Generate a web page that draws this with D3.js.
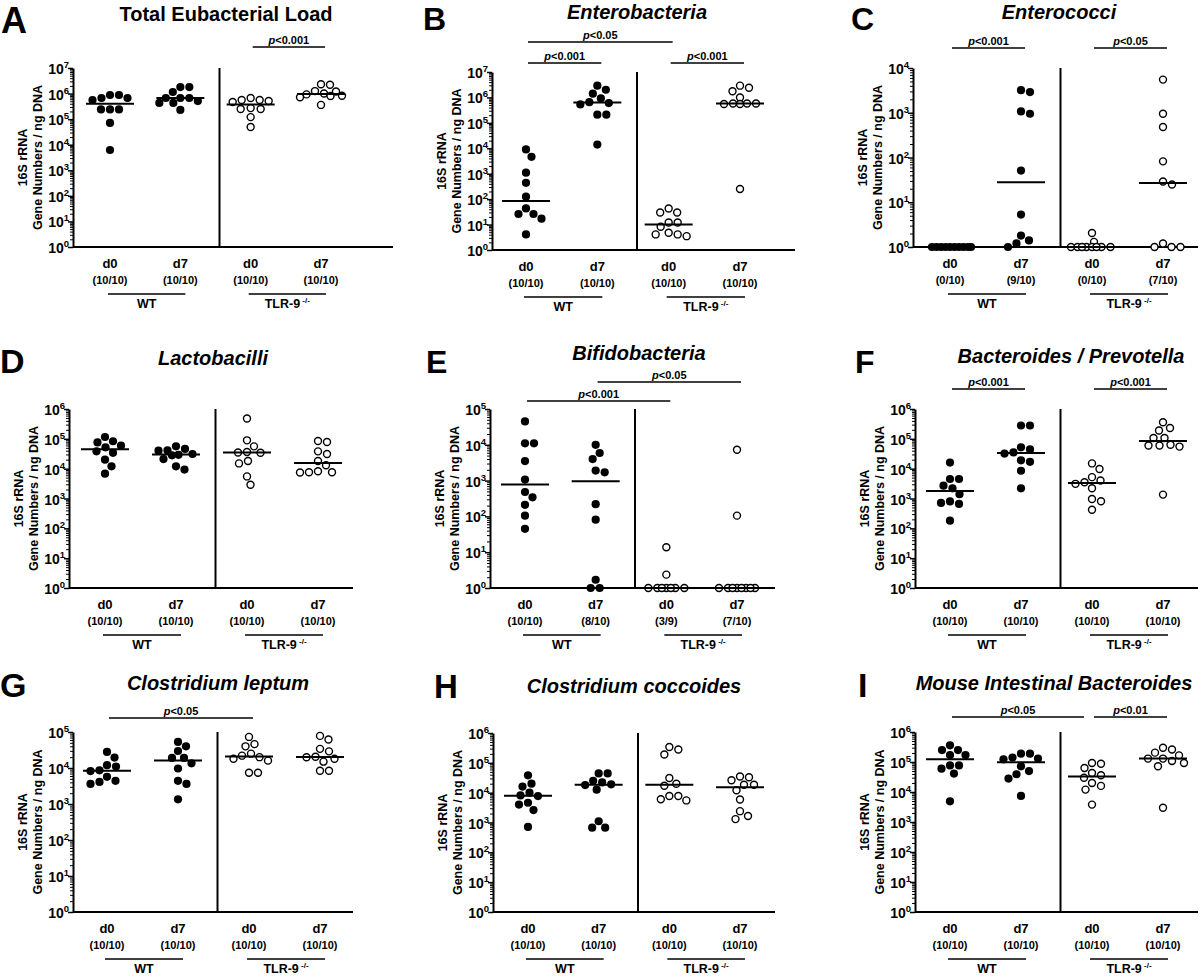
<!DOCTYPE html>
<html>
<head>
<meta charset="utf-8">
<script src="https://cdn.jsdelivr.net/npm/d3@7"></script>
<style>
body { margin: 0; background: #fff; }
svg { display: block; font-family: "Liberation Sans", Arial, sans-serif; font-weight: bold; }
</style>
</head>
<body>
<svg id="chart" width="1200" height="977"></svg>
<script>
// columns: WT d0, WT d7, TLR-9-/- d0, TLR-9-/- d7
const dayLabels = ["d0", "d7", "d0", "d7"];
const genotypes = ["WT", "TLR-9"];

const countsAll = ["(10/10)", "(10/10)", "(10/10)", "(10/10)"];
const countsEnterococci = ["(0/10)", "(9/10)", "(0/10)", "(7/10)"];
const countsBifido = ["(10/10)", "(8/10)", "(3/9)", "(7/10)"];

const totalEubacterial = [
  [8.8e5, 6.7e5, 5.6e5, 6.7e5, 8.8e5, 2.4e5, 2.4e5, 2.4e5, 7.1e4, 6.2e3],
  [1.8e6, 1.8e6, 1.15e6, 6.7e5, 6.7e5, 6.7e5, 5.1e5, 4.3e5, 4.3e5, 2.3e5],
  [6.7e5, 5.6e5, 5.6e5, 5.1e5, 4.7e5, 2.7e5, 2.5e5, 2.5e5, 1.2e5, 4.9e4],
  [2.3e6, 2.2e6, 1.25e6, 1.2e6, 1.0e6, 9.3e5, 8.2e5, 8.0e5, 7.2e5, 3.6e5]
];
const enterobacteria = [
  [9e3, 4.6e3, 1.1e3, 440, 125, 43, 26, 26, 17, 4.1],
  [2.9e6, 2.0e6, 1.4e6, 9.1e5, 6.5e5, 6.0e5, 5.3e5, 2.1e5, 2.1e5, 1.4e4],
  [43, 30, 30, 12, 12, 8.2, 4.8, 4.1, 4.1, 3.5],
  [2.9e6, 2.4e6, 1.75e6, 1.0e6, 5.8e5, 5.8e5, 5.8e5, 5.5e5, 5.5e5, 250]
];
const enterococci = [
  [1, 1, 1, 1, 1, 1, 1, 1, 1, 1],
  [3200, 2900, 1070, 950, 51, 5.3, 1.8, 1.4, 1.2, 1],
  [2.05, 1.3, 1, 1, 1, 1, 1, 1, 1, 1],
  [5500, 950, 480, 82, 29, 25, 1.2, 1, 1, 1]
];
const lactobacilli = [
  [1.15e5, 8.3e4, 7.6e4, 5.9e4, 5.2e4, 3.8e4, 3.4e4, 2.0e4, 1.2e4, 6.8e3],
  [5.6e4, 4.6e4, 4.1e4, 4.0e4, 3.1e4, 2.9e4, 2.8e4, 2.1e4, 1.2e4, 9.3e3],
  [4.8e5, 8.9e4, 5.6e4, 3.6e4, 3.5e4, 3.4e4, 1.8e4, 1.5e4, 5.5e3, 2.9e3],
  [8.5e4, 7.8e4, 3.8e4, 3.1e4, 1.8e4, 1.3e4, 8.2e3, 7.6e3, 7.6e3, 7.4e3]
];
const bifidobacteria = [
  [4.5e4, 1.1e4, 1.1e4, 3.5e3, 1.07e3, 480, 340, 210, 105, 45],
  [1e4, 5.9e3, 4e3, 1.9e3, 1.7e3, 220, 81, 1.7, 1, 1],
  [13.7, 2.36, 1, 1, 1, 1, 1, 1, 1],
  [7.3e3, 105, 1, 1, 1, 1, 1, 1, 1, 1]
];
const bacteroidesPrevotella = [
  [1.6e4, 4.5e3, 4.5e3, 2.7e3, 2.2e3, 1.4e3, 800, 710, 660, 180],
  [2.8e5, 2.8e5, 5.2e4, 4.4e4, 3.5e4, 3.2e4, 1.9e4, 1.7e4, 8.5e3, 2.2e3],
  [1.5e4, 9.8e3, 5.2e3, 4.0e3, 3.5e3, 3.1e3, 2.2e3, 960, 810, 420],
  [3.6e5, 2.3e5, 1.9e5, 1.07e5, 1.07e5, 6.3e4, 6e4, 6e4, 5.5e4, 1.35e3]
];
const clostridiumLeptum = [
  [2.8e4, 1.95e4, 1.2e4, 1.1e4, 8.6e3, 8.2e3, 5.7e3, 4.4e3, 4.1e3, 3.6e3],
  [5.3e4, 4e4, 2.97e4, 1.9e4, 1.9e4, 1.35e4, 9.7e3, 4.4e3, 3.6e3, 1.35e3],
  [7.3e4, 4.6e4, 4e4, 2.5e4, 2.2e4, 2.0e4, 1.8e4, 1.6e4, 7.4e3, 7.4e3],
  [7.8e4, 6.2e4, 3.4e4, 2.9e4, 2.05e4, 1.98e4, 1.8e4, 1.5e4, 8.4e3, 8.4e3]
];
const clostridiumCoccoides = [
  [3.8e4, 2e4, 1.6e4, 1e4, 8.1e3, 7.7e3, 4.6e3, 4e3, 2.6e3, 710],
  [4.4e4, 4.4e4, 2.5e4, 2.2e4, 1.9e4, 1.8e4, 1.26e4, 1.1e3, 670, 670],
  [3.4e5, 2.8e5, 1.9e5, 3.1e4, 2e4, 1.7e4, 7.7e3, 7.7e3, 6e3, 5.5e3],
  [3.5e4, 3.3e4, 2.6e4, 1.85e4, 1.85e4, 1.2e4, 5.9e3, 2.4e3, 1.65e3, 1.3e3]
];
const mouseIntestinalBacteroides = [
  [3.6e5, 2.5e5, 2.5e5, 1.7e5, 1.7e5, 7.7e4, 7.7e4, 6e4, 4.1e4, 4.9e3],
  [1.9e5, 1.9e5, 1.4e5, 1.3e5, 1.23e5, 7.2e4, 5e4, 3.9e4, 2.8e4, 7.4e3],
  [9.3e4, 8.7e4, 6.3e4, 4.3e4, 3.6e4, 3e4, 2e4, 1.6e4, 1.2e4, 3.8e3],
  [3e5, 2.6e5, 2.05e5, 1.66e5, 1.3e5, 1.3e5, 1.08e5, 9.3e4, 7.2e4, 3e3]
];

// [from column, to column, label, tier]
const statsTotal = [[2, 3, "<0.001", 0]];
const statsEntero = [[0, 1, "<0.001", 0], [2, 3, "<0.001", 0], [0, 2, "<0.05", 1]];
const statsEnteroc = [[0, 1, "<0.001", 0], [2, 3, "<0.05", 0]];
const statsBifido = [[0, 2, "<0.001", 0], [1, 3, "<0.05", 1]];
const statsBactPrev = [[0, 1, "<0.001", 0], [2, 3, "<0.001", 0]];
const statsLeptum = [[0, 2, "<0.05", 0]];
const statsMouse = [[0, 2, "<0.05", 0], [2, 3, "<0.01", 0]];

const panels = [
  {letter: "A", title: "Total Eubacterial Load", italic: false, data: totalEubacterial, counts: countsAll, yMax: 1e7, stats: statsTotal},
  {letter: "B", title: "Enterobacteria", italic: true, data: enterobacteria, counts: countsAll, yMax: 1e7, stats: statsEntero},
  {letter: "C", title: "Enterococci", italic: true, data: enterococci, counts: countsEnterococci, yMax: 1e4, stats: statsEnteroc},
  {letter: "D", title: "Lactobacilli", italic: true, data: lactobacilli, counts: countsAll, yMax: 1e6, stats: []},
  {letter: "E", title: "Bifidobacteria", italic: true, data: bifidobacteria, counts: countsBifido, yMax: 1e5, stats: statsBifido},
  {letter: "F", title: "Bacteroides / Prevotella", italic: true, data: bacteroidesPrevotella, counts: countsAll, yMax: 1e6, stats: statsBactPrev},
  {letter: "G", title: "Clostridium leptum", italic: true, data: clostridiumLeptum, counts: countsAll, yMax: 1e5, stats: statsLeptum},
  {letter: "H", title: "Clostridium coccoides", italic: true, data: clostridiumCoccoides, counts: countsAll, yMax: 1e6, stats: []},
  {letter: "I", title: "Mouse Intestinal Bacteroides", italic: true, data: mouseIntestinalBacteroides, counts: countsAll, yMax: 1e6, stats: statsMouse}
];

// where each panel sits on the page
const layout = [
  {left: 73, right: 393, top: 68, bottom: 247, first: 110, last: 321, titleX: 226, titleY: 21, letterX: 1, letterY: 33, letterSize: 36, tiers: [-21]},
  {left: 492, right: 795, top: 72, bottom: 250, first: 526, last: 740, titleX: 637, titleY: 19, letterX: 423, letterY: 30, letterSize: 32, tiers: [-9, -30]},
  {left: 913, right: 1198, top: 68, bottom: 247, first: 950, last: 1163, titleX: 1059, titleY: 19, letterX: 851, letterY: 30, letterSize: 32, tiers: [-20]},
  {left: 69, right: 353, top: 409, bottom: 588, first: 105, last: 318, titleX: 213, titleY: 365, letterX: 0, letterY: 373, letterSize: 34, tiers: []},
  {left: 490, right: 775, top: 409, bottom: 588, first: 525, last: 737, titleX: 639, titleY: 360, letterX: 426, letterY: 373, letterSize: 32, tiers: [-8, -27]},
  {left: 915, right: 1198, top: 409, bottom: 588, first: 950, last: 1163, titleX: 1071, titleY: 363, letterX: 855, letterY: 373, letterSize: 32, tiers: [-20]},
  {left: 73, right: 353, top: 732, bottom: 912, first: 107, last: 320, titleX: 218, titleY: 690, letterX: 0, letterY: 697, letterSize: 34, tiers: [-14]},
  {left: 493, right: 775, top: 733, bottom: 912, first: 528, last: 740, titleX: 634, titleY: 693, letterX: 434, letterY: 698, letterSize: 33, tiers: []},
  {left: 915, right: 1198, top: 732, bottom: 912, first: 950, last: 1163, titleX: 1054, titleY: 690, letterX: 858, letterY: 697, letterSize: 34, tiers: [-15]}
];

// column scatter spread, GraphPad style: nearest free spot to the centre
function swarm(ys, gap, maxHalf) {
  const order = d3.range(ys.length).sort((a, b) => ys[a] - ys[b]);
  const offs = [0];
  for (let s = 0.5; s <= maxHalf; s += 0.5) offs.push(s, -s);
  const placed = [];
  const xs = new Array(ys.length);
  order.forEach(i => {
    let best = 0, bestD = -1;
    for (const o of offs) {
      let m = Infinity;
      placed.forEach(p => { m = Math.min(m, Math.hypot(p[0] - o, p[1] - ys[i])); });
      if (m >= gap) { best = o; bestD = m; break; }
      if (m > bestD) { bestD = m; best = o; }
    }
    xs[i] = best;
    placed.push([best, ys[i]]);
  });
  return xs;
}

const svg = d3.select("#chart");

panels.forEach((p, k) => {
  const L = layout[k];
  const g = svg.append("g");
  const cols = d3.range(4);
  const x = d3.scalePoint().domain(cols).range([L.first, L.last]);
  const y = d3.scaleLog().domain([1, p.yMax]).range([L.bottom, L.top]);
  const exps = d3.range(0, Math.round(Math.log10(p.yMax)) + 1);
  const minors = [];
  exps.slice(0, -1).forEach(e => { for (let m = 2; m < 10; m++) minors.push(m * Math.pow(10, e)); });

  // letter + title
  g.append("text").attr("x", L.letterX).attr("y", L.letterY)
    .attr("font-size", L.letterSize).text(p.letter);
  g.append("text").attr("x", L.titleX).attr("y", L.titleY)
    .attr("text-anchor", "middle").attr("font-size", 20)
    .attr("font-style", p.italic ? "italic" : "normal").text(p.title);

  // y axis
  g.append("g").attr("transform", `translate(${L.left},0)`)
    .call(d3.axisLeft(y).tickValues(minors).tickSize(3).tickFormat(() => ""))
    .call(a => a.select(".domain").remove())
    .call(a => a.selectAll(".tick line").attr("stroke-width", 1));
  g.append("g").attr("transform", `translate(${L.left},0)`)
    .call(d3.axisLeft(y).tickValues(exps.map(e => Math.pow(10, e))).tickSize(5).tickSizeOuter(0).tickFormat(() => ""))
    .call(a => a.select(".domain").attr("stroke-width", 2))
    .call(a => a.selectAll(".tick line").attr("stroke-width", 1.5));

  g.selectAll(".ylab").data(exps).join("text")
    .attr("x", L.left - 4).attr("y", e => y(Math.pow(10, e)) + 6)
    .attr("text-anchor", "end").attr("font-size", 14)
    .each(function (e) {
      const t = d3.select(this);
      t.append("tspan").text("10");
      t.append("tspan").attr("font-size", 9.5).attr("dy", -6).text(e);
    });

  const midY = (L.top + L.bottom) / 2;
  g.append("text").attr("transform", `translate(${L.left - 46},${midY}) rotate(-90)`)
    .attr("text-anchor", "middle").attr("font-size", 12.5).text("16S rRNA");
  g.append("text").attr("transform", `translate(${L.left - 31},${midY}) rotate(-90)`)
    .attr("text-anchor", "middle").attr("font-size", 12.5).text("Gene Numbers / ng DNA");

  // x axis line and column labels
  g.append("line").attr("x1", L.left).attr("x2", L.right)
    .attr("y1", L.bottom).attr("y2", L.bottom)
    .attr("stroke", "#000").attr("stroke-width", 2);
  const divX = (x(1) + x(2)) / 2 + 4;
  g.append("line").attr("x1", divX).attr("x2", divX)
    .attr("y1", L.top).attr("y2", L.bottom)
    .attr("stroke", "#000").attr("stroke-width", 2);

  g.selectAll(".day").data(cols).join("text")
    .attr("x", c => x(c)).attr("y", L.bottom + 21)
    .attr("text-anchor", "middle").attr("font-size", 13).text(c => dayLabels[c]);
  g.selectAll(".cnt").data(cols).join("text")
    .attr("x", c => x(c)).attr("y", L.bottom + 37)
    .attr("text-anchor", "middle").attr("font-size", 11).text(c => p.counts[c]);

  genotypes.forEach((name, gi) => {
    const x1 = x(gi * 2) - 2, x2 = x(gi * 2 + 1) + 5;
    g.append("line").attr("x1", x1).attr("x2", x2)
      .attr("y1", L.bottom + 47).attr("y2", L.bottom + 47)
      .attr("stroke", "#000").attr("stroke-width", 1.6);
    const t = g.append("text").attr("x", (x1 + x2) / 2).attr("y", L.bottom + 61)
      .attr("text-anchor", "middle").attr("font-size", 12.5);
    t.append("tspan").text(name);
    if (gi === 1) t.append("tspan").attr("font-size", 8).attr("dy", -5).text(" -/-");
  });

  // points and medians
  p.data.forEach((vals, c) => {
    const ys = vals.map(v => y(v));
    const dx = swarm(ys, 9, 21);
    const open = c >= 2;
    g.append("g").selectAll("circle").data(vals).join("circle")
      .attr("cx", (v, i) => x(c) + dx[i]).attr("cy", (v, i) => ys[i])
      .attr("r", open ? 3.5 : 4.1)
      .attr("fill", open ? "#fff" : "#000")
      .attr("stroke", "#000").attr("stroke-width", open ? 1.4 : 0);
    const med = y(d3.median(vals));
    g.append("line").attr("x1", x(c) - 24).attr("x2", x(c) + 24)
      .attr("y1", med).attr("y2", med)
      .attr("stroke", "#000").attr("stroke-width", 2);
  });

  // significance bars
  p.stats.forEach(([a, b, label, tier]) => {
    const ly = L.top + L.tiers[tier];
    const joined = p.stats.some(s => s[0] === b && s[3] === tier);
    const x1 = x(a) + 2, x2 = joined ? x(b) - 8 : x(b) + 4;
    g.append("line").attr("x1", x1).attr("x2", x2).attr("y1", ly).attr("y2", ly)
      .attr("stroke", "#000").attr("stroke-width", 1.6);
    const t = g.append("text").attr("x", (x1 + x2) / 2).attr("y", ly - 3)
      .attr("text-anchor", "middle").attr("font-size", 11);
    t.append("tspan").attr("font-style", "italic").text("p");
    t.append("tspan").text(label);
  });
});
</script>
</body>
</html>
